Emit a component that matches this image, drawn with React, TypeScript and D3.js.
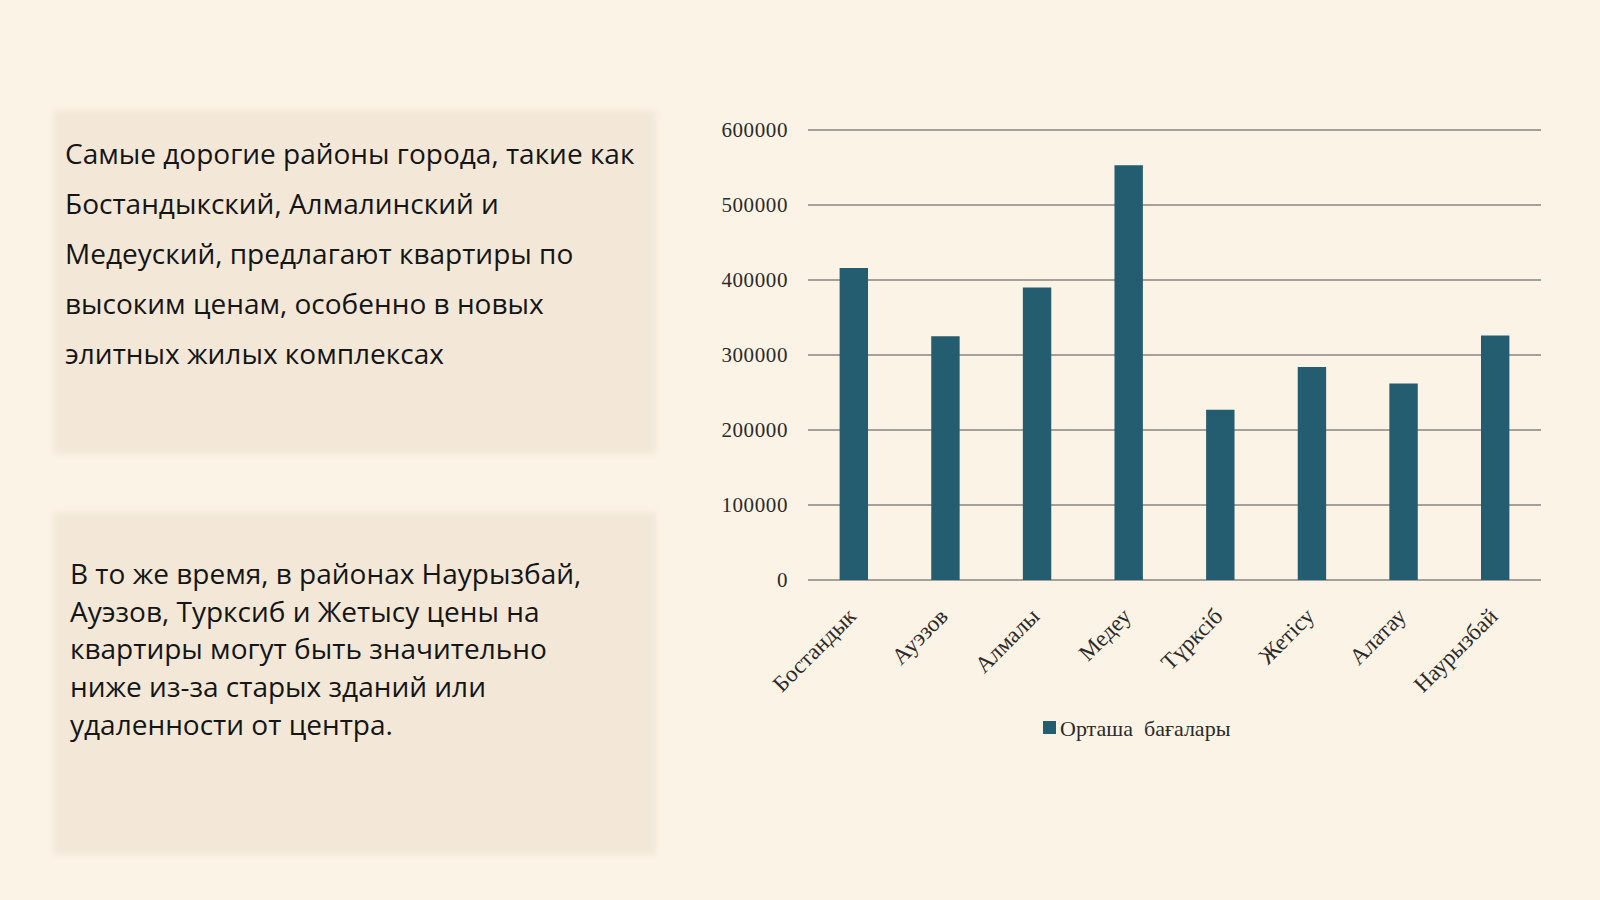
import { useEffect, useRef } from "react";
import * as d3 from "d3";

const districts = [
  "Бостандык",
  "Ауэзов",
  "Алмалы",
  "Медеу",
  "Түрксіб",
  "Жетісу",
  "Алатау",
  "Наурызбай",
];
const avgPrices = [416000, 325000, 390000, 553000, 227000, 284000, 262000, 326000];
const yTicks = [0, 100000, 200000, 300000, 400000, 500000, 600000];
const seriesName = "Орташа  бағалары";

const textTop = [
  "Самые дорогие районы города, такие как",
  "Бостандыкский, Алмалинский и",
  "Медеуский, предлагают квартиры по",
  "высоким ценам, особенно в новых",
  "элитных жилых комплексах",
];
const textBottom = [
  "В то же время, в районах Наурызбай,",
  "Ауэзов, Турксиб и Жетысу цены на",
  "квартиры могут быть значительно",
  "ниже из-за старых зданий или",
  "удаленности от центра.",
];

const W = 1600;
const H = 900;

const App = () => {
  const svgRef = useRef(null);

  useEffect(() => {
    document.body.style.margin = "0";
    const svg = d3.select(svgRef.current).attr("width", W).attr("height", H);
    svg.selectAll("*").remove();

    const defs = svg.append("defs");
    const blur = defs.append("filter").attr("id", "soft").attr("x", "-5%").attr("y", "-5%").attr("width", "110%").attr("height", "110%");
    blur.append("feGaussianBlur").attr("stdDeviation", 3);

    svg.append("rect").attr("width", W).attr("height", H).attr("fill", "#fcf3e7");

    // text panels
    const panels = [
      { y: 110, h: 344, lines: textTop, x0: 65, y0: 164, lh: 50 },
      { y: 512, h: 343, lines: textBottom, x0: 70, y0: 584, lh: 37.7 },
    ];
    panels.forEach((p) => {
      svg
        .append("rect")
        .attr("x", 53)
        .attr("y", p.y)
        .attr("width", 603)
        .attr("height", p.h)
        .attr("fill", "#f3e8d8")
        .attr("filter", "url(#soft)");
      const t = svg
        .append("text")
        .attr("font-family", "'Open Sans', sans-serif")
        .attr("font-size", 28)
        .attr("fill", "#151515");
      p.lines.forEach((line, i) => {
        t.append("tspan").attr("x", p.x0).attr("y", p.y0 + i * p.lh).text(line);
      });
    });

    // chart
    const left = 808;
    const right = 1541;
    const top = 130;
    const bottom = 580;

    const x = d3
      .scaleBand()
      .domain(districts)
      .range([left, right])
      .paddingInner(0.69)
      .paddingOuter(0.345);
    const y = d3.scaleLinear().domain([0, 600000]).range([bottom, top]);

    const g = svg.append("g").attr("font-family", "'Liberation Serif', 'Times New Roman', serif");

    g.selectAll(".grid")
      .data(yTicks)
      .join("line")
      .attr("x1", left)
      .attr("x2", right)
      .attr("y1", (d) => y(d))
      .attr("y2", (d) => y(d))
      .attr("stroke", "#8a8480")
      .attr("stroke-width", 1.6);

    g.selectAll(".ylab")
      .data(yTicks)
      .join("text")
      .attr("x", 788)
      .attr("y", (d) => y(d))
      .attr("dy", "0.35em")
      .attr("text-anchor", "end")
      .attr("font-size", 21)
      .attr("letter-spacing", 0.6)
      .attr("fill", "#2a2a2a")
      .text((d) => String(d));

    g.selectAll(".bar")
      .data(avgPrices)
      .join("rect")
      .attr("x", (_d, i) => x(districts[i]) || 0)
      .attr("y", (d) => y(d))
      .attr("width", x.bandwidth())
      .attr("height", (d) => bottom - y(d))
      .attr("fill", "#255d70");

    g.selectAll(".xlab")
      .data(districts)
      .join("text")
      .attr(
        "transform",
        (d) => `translate(${(x(d) || 0) + x.bandwidth() / 2 - 2},${bottom + 32}) rotate(-45)`
      )
      .attr("text-anchor", "end")
      .attr("dy", "0.35em")
      .attr("font-size", 23)
      .attr("fill", "#2a2a2a")
      .text((d) => d);

    const legend = g.append("g").attr("transform", "translate(1043,728)");
    legend.append("rect").attr("x", 0).attr("y", -7).attr("width", 13).attr("height", 13).attr("fill", "#255d70");
    legend
      .append("text")
      .attr("x", 17)
      .attr("dy", "0.35em")
      .attr("font-size", 22)
      .attr("fill", "#2a2a2a")
      .style("white-space", "pre")
      .text(seriesName);

    return () => {
      svg.selectAll("*").remove();
    };
  }, []);

  return <svg ref={svgRef} style={{ display: "block" }} />;
};

export default App;
